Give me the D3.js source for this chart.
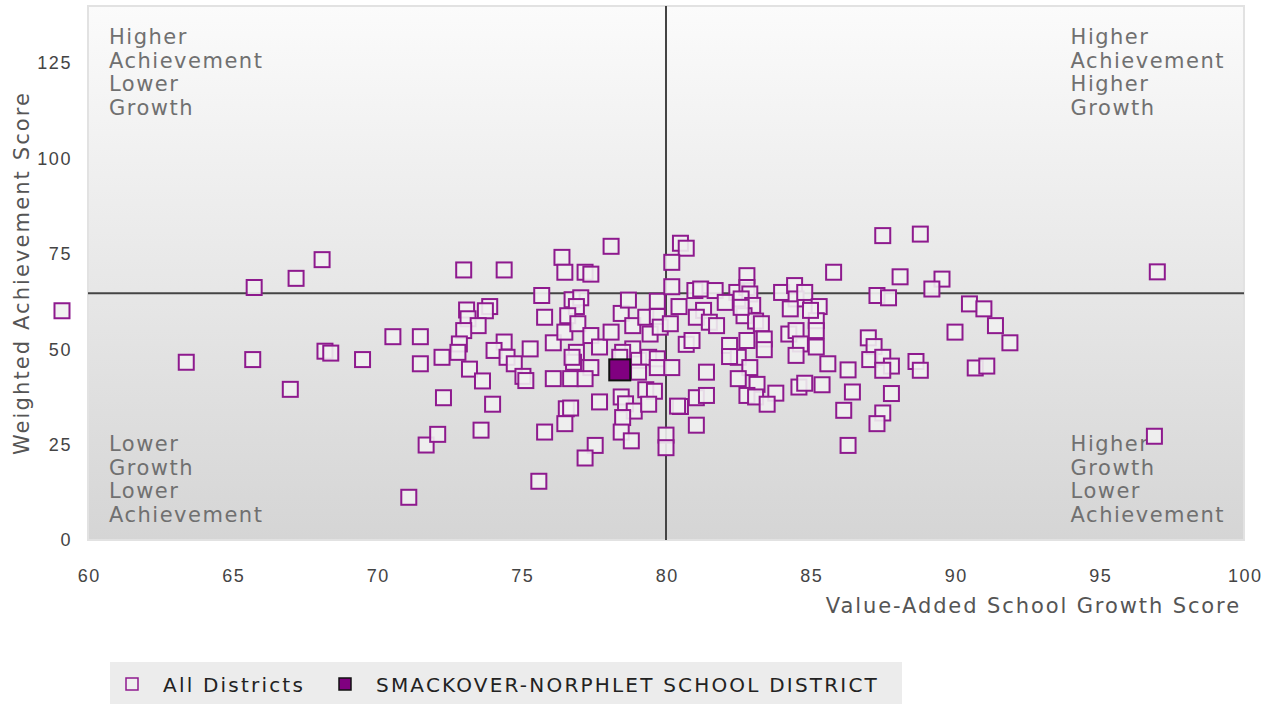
<!DOCTYPE html>
<html>
<head>
<meta charset="utf-8">
<script src="https://cdn.jsdelivr.net/npm/d3@7"></script>
<style>
  body { margin: 0; background: #fff; font-family: "DejaVu Sans", sans-serif; }
</style>
</head>
<body>
<div id="chart"></div>
<script>
// growth score (x) and achievement score (y) per district
const growthScores = [
  59.1, 63.4, 65.75, 65.7, 67.0, 67.2, 68.1, 68.2, 68.4, 69.5,
  70.55, 71.1, 71.5, 71.5, 71.7, 72.1, 72.25, 72.3, 73.0, 74.4,
  76.4, 76.5, 77.2, 77.4, 78.1, 75.7, 76.75, 77.05, 76.9, 73.1,
  73.15, 73.9, 73.75, 73.5, 73.0, 72.85, 72.8, 73.2, 74.4, 74.05,
  74.5, 74.75, 75.3, 75.8, 76.1, 76.6, 76.5, 76.95, 77.4, 77.7,
  76.9, 76.8, 77.4, 78.1, 78.45, 78.7, 78.85, 79.3, 79.45, 78.85,
  78.5, 79.7, 79.7, 78.4, 79.05, 79.4, 79.7, 80.2, 79.8, 80.15,
  79.05, 79.7, 80.2, 76.75, 73.65, 75.05, 75.15, 76.1, 76.7, 77.2,
  74.0, 76.55, 76.7, 76.5, 77.7, 73.6, 75.8, 77.55, 77.2, 75.6,
  79.3, 79.6, 78.45, 78.6, 78.9, 79.4, 78.5, 78.45, 78.8, 80.0,
  80.0, 80.5, 80.7, 80.2, 82.8, 85.8, 81.0, 81.2, 81.7, 82.45,
  82.8, 82.9, 82.05, 82.6, 83.0, 84.0, 84.45, 84.5, 84.8, 85.3,
  85.2, 85.2, 85.0, 84.3, 80.45, 81.3, 81.05, 81.5, 81.75, 82.7,
  83.1, 83.3, 82.6, 84.25, 84.5, 84.65, 85.2, 80.7, 80.9, 82.2,
  82.8, 83.4, 83.4, 82.5, 82.2, 82.9, 82.5, 83.15, 82.8, 83.1,
  83.8, 83.5, 81.4, 81.05, 81.4, 80.5, 80.4, 81.05, 84.5, 85.6,
  86.3, 84.6, 84.8, 85.4, 86.45, 86.15, 86.3, 87.5, 88.8, 88.1,
  89.55, 89.2, 87.3, 87.7, 90.5, 91.0, 91.4, 91.9, 90.0, 87.0,
  87.2, 87.05, 87.5, 87.8, 87.5, 88.65, 88.8, 90.7, 91.1, 87.8,
  87.5, 87.3, 97.0, 96.9
];
const achievementScores = [
  60.1, 46.6, 66.2, 47.3, 39.5, 68.6, 73.5, 49.5, 49.0, 47.3,
  53.3, 11.2, 53.3, 46.2, 24.9, 27.7, 47.9, 37.3, 70.8, 70.8,
  74.1, 70.2, 70.2, 69.7, 77.0, 64.1, 63.0, 63.5, 61.2, 60.3,
  58.0, 61.2, 60.1, 56.2, 54.9, 51.4, 49.2, 44.8, 51.9, 49.7,
  47.9, 46.2, 50.1, 58.4, 51.7, 58.8, 54.5, 56.7, 53.6, 50.6,
  49.2, 46.6, 45.2, 54.5, 59.4, 62.9, 56.2, 58.4, 54.0, 50.1,
  49.2, 62.6, 58.6, 47.9, 47.1, 47.9, 47.5, 66.4, 55.8, 56.7,
  44.0, 45.2, 45.2, 47.9, 41.7, 42.9, 41.8, 42.3, 42.3, 42.3,
  35.6, 34.4, 34.6, 30.5, 36.2, 28.8, 28.3, 24.8, 21.5, 15.4,
  39.4, 39.0, 37.5, 35.7, 33.8, 35.6, 32.1, 28.3, 26.0, 27.5,
  24.2, 77.8, 76.5, 72.8, 69.3, 70.2, 65.4, 65.8, 65.4, 64.9,
  66.2, 64.5, 62.3, 63.2, 61.5, 64.9, 66.7, 63.2, 64.9, 61.2,
  57.5, 54.9, 60.2, 60.6, 61.2, 60.2, 58.4, 57.1, 56.2, 58.8,
  57.4, 56.7, 61.0, 54.0, 54.9, 51.4, 50.6, 51.3, 52.3, 51.0,
  52.3, 52.7, 49.9, 47.9, 48.1, 45.2, 42.3, 40.8, 37.9, 37.5,
  38.5, 35.6, 44.0, 37.3, 37.9, 35.0, 35.1, 30.1, 48.4, 46.2,
  44.6, 40.1, 41.1, 40.7, 38.8, 34.0, 24.8, 79.8, 80.2, 69.0,
  68.4, 65.8, 64.1, 63.5, 61.9, 60.6, 56.2, 51.7, 54.5, 53.0,
  50.7, 47.3, 47.9, 45.6, 44.5, 46.8, 44.5, 45.1, 45.6, 38.4,
  33.3, 30.5, 70.3, 27.2
];

const districtName = "SMACKOVER-NORPHLET SCHOOL DISTRICT";
const districtGrowth = 78.4;
const districtAchievement = 44.6;

const xTicks = [60, 65, 70, 75, 80, 85, 90, 95, 100];
const yTicks = [0, 25, 50, 75, 100, 125];
const growthCut = 80;
const achievementCut = 64.7;

const quadrantLabels = [
  { lines: ["Higher", "Achievement", "Lower", "Growth"], gx: 60, top: true },
  { lines: ["Higher", "Achievement", "Higher", "Growth"], gx: 94, top: true },
  { lines: ["Lower", "Growth", "Lower", "Achievement"], gx: 60, top: false },
  { lines: ["Higher", "Growth", "Lower", "Achievement"], gx: 94, top: false }
];

const width = 1272, height = 704;
const margin = { top: 6, right: 28, bottom: 164, left: 88 };
const plotW = width - margin.left - margin.right;
const plotH = height - margin.top - margin.bottom;

const svg = d3.select("#chart").append("svg")
  .attr("width", width)
  .attr("height", height)
  .style("font-family", "'DejaVu Sans', sans-serif");

const defs = svg.append("defs");
const grad = defs.append("linearGradient")
  .attr("id", "bg").attr("x1", 0).attr("y1", 0).attr("x2", 0).attr("y2", 1);
grad.append("stop").attr("offset", "0%").attr("stop-color", "#fbfbfb");
grad.append("stop").attr("offset", "100%").attr("stop-color", "#d5d5d5");

const x = d3.scaleLinear().domain([60, 100]).range([0, plotW]);
const y = d3.scaleLinear().domain([0, 140]).range([plotH, 0]);

const g = svg.append("g").attr("transform", `translate(${margin.left},${margin.top})`);

g.append("rect")
  .attr("width", plotW).attr("height", plotH)
  .attr("fill", "url(#bg)")
  .attr("stroke", "#e2e2e2").attr("stroke-width", 2);

// axes (labels only)
const xAxis = g.append("g")
  .attr("transform", `translate(0,${plotH})`)
  .call(d3.axisBottom(x).tickValues(xTicks).tickSize(0).tickPadding(29));
const yAxis = g.append("g")
  .call(d3.axisLeft(y).tickValues(yTicks).tickSize(0).tickPadding(16));
[xAxis, yAxis].forEach(a => {
  a.select(".domain").remove();
  a.selectAll("text")
    .attr("fill", "#444")
    .style("font-size", "18px")
    .style("letter-spacing", "1.6px");
});
xAxis.selectAll("text").attr("dx", "0.8px");

// quadrant labels
quadrantLabels.forEach(q => {
  const t = g.append("text")
    .attr("fill", "#707070")
    .style("font-size", "21px")
    .style("letter-spacing", "1.5px");
  const tx = x(q.gx) + (q.gx === 60 ? 21 : 0);
  const ty = q.top ? y(140) + 38 : y(0) - 89;
  q.lines.forEach((line, i) => {
    t.append("tspan").attr("x", tx).attr("y", ty + i * 23.5).text(line);
  });
});

// quadrant divider lines
g.append("line")
  .attr("x1", x(growthCut)).attr("x2", x(growthCut))
  .attr("y1", 0).attr("y2", plotH)
  .attr("stroke", "#444").attr("stroke-width", 2);
g.append("line")
  .attr("x1", 0).attr("x2", plotW)
  .attr("y1", y(achievementCut)).attr("y2", y(achievementCut))
  .attr("stroke", "#444").attr("stroke-width", 2);

// all districts
const pts = growthScores.map((v, i) => ({ gx: v, gy: achievementScores[i] }));
const s = 15;
g.selectAll("rect.pt").data(pts).enter().append("rect")
  .attr("class", "pt")
  .attr("x", d => x(d.gx) - s / 2)
  .attr("y", d => y(d.gy) - s / 2)
  .attr("width", s).attr("height", s)
  .attr("fill", "#efefef").attr("fill-opacity", 0.9)
  .attr("stroke", "#8e1a8e").attr("stroke-width", 2);

// selected district
const hs = 21;
g.append("rect")
  .attr("x", x(districtGrowth) - hs / 2)
  .attr("y", y(districtAchievement) - hs / 2)
  .attr("width", hs).attr("height", hs)
  .attr("fill", "#800080")
  .attr("stroke", "#111").attr("stroke-width", 2);

// axis titles
svg.append("text")
  .attr("x", margin.left + plotW - 3)
  .attr("y", 613)
  .attr("text-anchor", "end")
  .attr("fill", "#555")
  .style("font-size", "21px")
  .style("letter-spacing", "1.9px")
  .text("Value-Added School Growth Score");
svg.append("text")
  .attr("transform", `translate(29,${margin.top + plotH / 2}) rotate(-90)`)
  .attr("text-anchor", "middle")
  .attr("fill", "#555")
  .style("font-size", "21px")
  .style("letter-spacing", "2.1px")
  .text("Weighted Achievement Score");

// legend
const legend = svg.append("g").attr("transform", "translate(110,662)");
legend.append("rect")
  .attr("width", 792).attr("height", 46)
  .attr("fill", "#ececec");
const legendItems = [
  { label: "All Districts", fill: "#efefef", stroke: "#8e1a8e", x: 16, tx: 53 },
  { label: districtName, fill: "#800080", stroke: "#111", x: 229, tx: 266 }
];
legendItems.forEach(item => {
  legend.append("rect")
    .attr("x", item.x).attr("y", 16)
    .attr("width", 12).attr("height", 12)
    .attr("fill", item.fill)
    .attr("stroke", item.stroke).attr("stroke-width", 1.5);
  legend.append("text")
    .attr("x", item.tx).attr("y", 30)
    .attr("fill", "#222")
    .style("font-size", "20px")
    .style("letter-spacing", "2.2px")
    .text(item.label);
});
</script>
</body>
</html>
